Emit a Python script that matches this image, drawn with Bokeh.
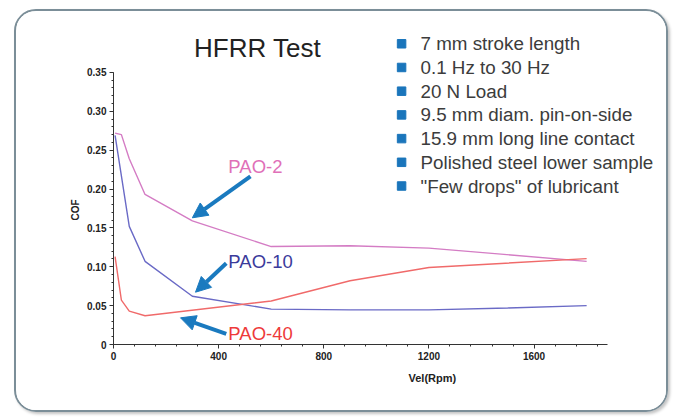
from bokeh.plotting import figure
from bokeh.models import (Range1d, SingleIntervalTicker, CustomJSTickFormatter, Label,
                          Arrow, NormalHead, Title)
from bokeh.embed import file_html
from bokeh.resources import INLINE

# ---- data ----
rpm_pao2 = [6, 30, 60, 120, 300, 600, 900, 1200, 1800]
cof_pao2 = [0.272, 0.270, 0.239, 0.193, 0.159, 0.126, 0.127, 0.124, 0.107]
rpm_pao10 = [6, 60, 120, 300, 600, 900, 1200, 1500, 1800]
cof_pao10 = [0.269, 0.152, 0.107, 0.062, 0.0455, 0.0445, 0.0445, 0.047, 0.050]
rpm_pao40 = [6, 30, 60, 120, 600, 900, 1200, 1800]
cof_pao40 = [0.113, 0.057, 0.043, 0.037, 0.056, 0.082, 0.099, 0.1105]

bullets = ["7 mm stroke length", "0.1 Hz to 30 Hz", "20 N Load",
           "9.5 mm diam. pin-on-side", "15.9 mm long line contact",
           "Polished steel lower sample", "\"Few drops\" of lubricant"]

p = figure(width=654, height=403, output_backend="svg", toolbar_location=None,
           x_range=Range1d(0, 2081), y_range=Range1d(0, 0.4104),
           min_border_left=97, min_border_right=10, min_border_top=14, min_border_bottom=70)
p.margin = (9, 0, 0, 14)
p.styles = {"border": "2px solid #7b8e98", "border-radius": "22px",
            "box-shadow": "2px 2px 3px #c4c4c4", "overflow": "hidden"}
p.outline_line_color = None
p.xgrid.visible = False
p.ygrid.visible = False
p.background_fill_color = "white"
p.border_fill_color = "white"

p.xaxis.ticker = SingleIntervalTicker(interval=400, num_minor_ticks=5)
p.yaxis.ticker = SingleIntervalTicker(interval=0.05, num_minor_ticks=5)
p.xaxis.bounds = (0, 1880)
p.yaxis.bounds = (0, 0.3501)
p.yaxis.formatter = CustomJSTickFormatter(code="return Math.abs(tick) < 1e-9 ? '0' : tick.toFixed(2);")
for ax in (p.xaxis, p.yaxis):
    ax.axis_line_color = "#333333"
    ax.major_tick_line_color = "#333333"
    ax.minor_tick_line_color = "#333333"
    ax.major_tick_out = 4
    ax.major_tick_in = 0
    ax.minor_tick_out = 2
    ax.minor_tick_in = 0
    ax.major_label_text_font = "Liberation Sans"
    ax.major_label_text_font_style = "bold"
    ax.major_label_text_font_size = "10px"
    ax.major_label_text_color = "#222222"
    ax.major_label_standoff = 3

p.line(rpm_pao2, cof_pao2, line_color="#d47cc4", line_width=1.4)
p.line(rpm_pao10, cof_pao10, line_color="#6a6ac6", line_width=1.4)
p.line(rpm_pao40, cof_pao40, line_color="#f06a6a", line_width=1.4)

# axis titles
p.add_layout(Title(text="Vel(Rpm)", align="left", offset=295, standoff=14,
                   text_font="Liberation Sans", text_font_style="bold",
                   text_font_size="11px", text_color="#222222"), "below")
p.add_layout(Title(text="COF", align="left", offset=124, standoff=8,
                   text_font="Liberation Sans", text_font_style="bold",
                   text_font_size="10px", text_color="#222222"), "left")

# title
p.add_layout(Label(x=548, y=0.382, text="HFRR Test", text_align="center",
                   text_baseline="middle", text_font="Liberation Sans",
                   text_font_size="26px", text_color="#222222"))

# bullet list
y0, dy = 0.3869, 0.0305
by = [y0 - i * dy for i in range(len(bullets))]
p.scatter([1096] * len(bullets), by, marker="square", size=8.5,
          fill_color="#1a75bb", line_color="#1a75bb")
for t, yy in zip(bullets, by):
    p.add_layout(Label(x=1168, y=yy, text=t, text_align="left", text_baseline="middle",
                       text_font="Liberation Sans", text_font_size="18.8px",
                       text_color="#3c3c3c"))

# series labels
for t, xx, yy, c in [("PAO-2", 437, 0.229, "#e070b8"),
                     ("PAO-10", 437, 0.1064, "#3b3b9b"),
                     ("PAO-40", 437, 0.0144, "#ee3a3a")]:
    p.add_layout(Label(x=xx, y=yy, text=t, text_align="left", text_baseline="middle",
                       text_font="Liberation Sans", text_font_size="18.5px", text_color=c))

# arrows
for xs, ys, xe, ye in [(521, 0.2162, 300, 0.163),
                       (429, 0.1046, 312, 0.0673),
                       (429, 0.0138, 255, 0.0343)]:
    p.add_layout(Arrow(x_start=xs, y_start=ys, x_end=xe, y_end=ye,
                       line_color="#1a7abf", line_width=4,
                       end=NormalHead(size=15, fill_color="#1a7abf", line_color="#1a7abf")))

open("out.html", "w").write(file_html(p, INLINE))
